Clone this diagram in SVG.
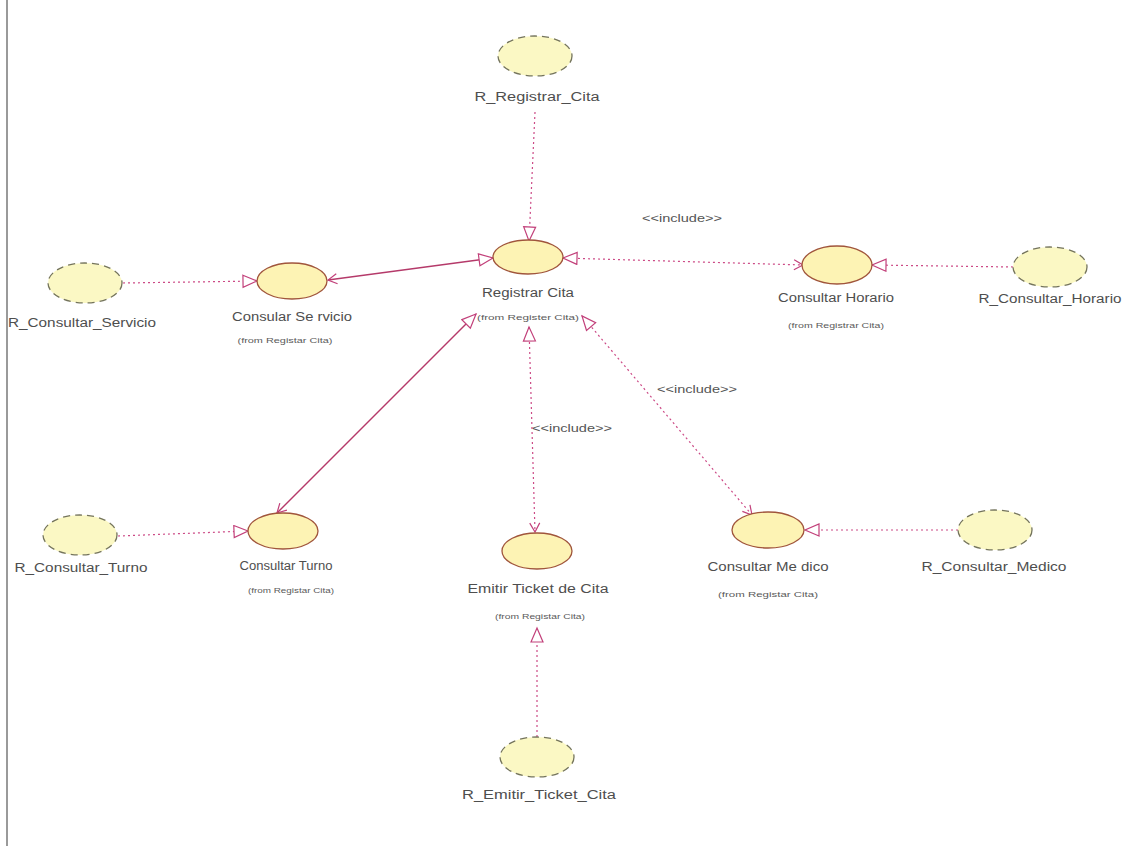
<svg xmlns="http://www.w3.org/2000/svg" width="1128" height="846" viewBox="0 0 1128 846">
  <style>
    .uc ellipse { fill: #fdf3b4; stroke: #a0553c; stroke-width: 1.3; }
    .rz ellipse { fill: #fbf8c4; stroke: #74745c; stroke-width: 1.3; stroke-dasharray: 7,5; }
    .lbl { font-family: "Liberation Sans", Arial, sans-serif; font-size: 12.5px; fill: #4e4e4e; text-anchor: middle; }
    .sub { font-family: "Liberation Sans", Arial, sans-serif; font-size: 7.5px; fill: #5a5a5a; text-anchor: middle; }
    .stereo { font-family: "Liberation Sans", Arial, sans-serif; font-size: 11px; fill: #555; text-anchor: middle; }
    .dep { fill: none; stroke: #cc4a86; stroke-width: 1.2; stroke-dasharray: 2,3; }
    .assoc { fill: none; stroke: #b53a6a; stroke-width: 1.4; }
  </style>
  <defs>
    <marker id="tri" markerUnits="userSpaceOnUse" markerWidth="18" markerHeight="16" refX="15" refY="7" orient="auto-start-reverse">
      <path d="M1,1 L15,7 L1,13 Z" fill="#ffffff" stroke="#c2407a" stroke-width="1.2"/>
    </marker>
    <marker id="open" markerUnits="userSpaceOnUse" markerWidth="14" markerHeight="14" refX="10" refY="6" orient="auto-start-reverse">
      <path d="M1,1 L10,6 L1,11" fill="none" stroke="#c2407a" stroke-width="1.2"/>
    </marker>
  </defs>

  <rect x="0" y="0" width="1128" height="846" fill="#ffffff"/>
  <line x1="7" y1="0" x2="7" y2="846" stroke="#9a9a9a" stroke-width="2"/>

  <!-- connectors -->
  <g id="connectors">
    <line class="dep" x1="535" y1="112" x2="529" y2="241" marker-end="url(#tri)"/>
    <line class="dep" x1="123" y1="283" x2="257" y2="281" marker-end="url(#tri)"/>
    <line class="assoc" x1="328" y1="280" x2="493" y2="258" marker-start="url(#open)" marker-end="url(#tri)"/>
    <line class="dep" x1="563" y1="258" x2="803" y2="265" marker-start="url(#tri)" marker-end="url(#open)"/>
    <line class="dep" x1="1013" y1="267" x2="872" y2="265" marker-end="url(#tri)"/>
    <line class="assoc" x1="277" y1="513" x2="476" y2="314" marker-start="url(#open)" marker-end="url(#tri)"/>
    <line class="dep" x1="529" y1="327" x2="535" y2="532" marker-start="url(#tri)" marker-end="url(#open)"/>
    <line class="dep" x1="582" y1="316" x2="752" y2="515" marker-start="url(#tri)" marker-end="url(#open)"/>
    <line class="dep" x1="958" y1="530" x2="805" y2="530" marker-end="url(#tri)"/>
    <line class="dep" x1="118" y1="536" x2="248" y2="531" marker-end="url(#tri)"/>
    <line class="dep" x1="537" y1="737" x2="537" y2="628" marker-end="url(#tri)"/>
    <text class="stereo" x="682" y="222" textLength="80" lengthAdjust="spacingAndGlyphs">&lt;&lt;include&gt;&gt;</text>
    <text class="stereo" x="697" y="393" textLength="80" lengthAdjust="spacingAndGlyphs">&lt;&lt;include&gt;&gt;</text>
    <text class="stereo" x="572" y="432" textLength="80" lengthAdjust="spacingAndGlyphs">&lt;&lt;include&gt;&gt;</text>
  </g>

  <!-- use cases -->
  <g id="registrar-cita" class="uc">
    <ellipse cx="528" cy="257" rx="35" ry="17"/>
    <text class="lbl" x="528" y="297" textLength="92" lengthAdjust="spacingAndGlyphs">Registrar Cita</text>
    <text class="sub" x="528" y="320" textLength="102" lengthAdjust="spacingAndGlyphs">(from Register Cita)</text>
  </g>
  <g id="consular-servicio" class="uc">
    <ellipse cx="292" cy="281" rx="35" ry="18"/>
    <text class="lbl" x="292" y="321" textLength="120" lengthAdjust="spacingAndGlyphs">Consular Se rvicio</text>
    <text class="sub" x="285" y="343" textLength="95" lengthAdjust="spacingAndGlyphs">(from Registar Cita)</text>
  </g>
  <g id="consultar-horario" class="uc">
    <ellipse cx="837" cy="265" rx="35" ry="19"/>
    <text class="lbl" x="836" y="302" textLength="116" lengthAdjust="spacingAndGlyphs">Consultar Horario</text>
    <text class="sub" x="836" y="328" textLength="96" lengthAdjust="spacingAndGlyphs">(from Registrar Cita)</text>
  </g>
  <g id="consultar-turno" class="uc">
    <ellipse cx="283" cy="531" rx="35" ry="18"/>
    <text class="lbl" x="286" y="570" textLength="93" lengthAdjust="spacingAndGlyphs">Consultar Turno</text>
    <text class="sub" x="291" y="593" textLength="86" lengthAdjust="spacingAndGlyphs">(from Registar Cita)</text>
  </g>
  <g id="emitir-ticket" class="uc">
    <ellipse cx="537" cy="551" rx="35" ry="18"/>
    <text class="lbl" x="538" y="593" textLength="141" lengthAdjust="spacingAndGlyphs">Emitir Ticket de Cita</text>
    <text class="sub" x="540" y="619" textLength="90" lengthAdjust="spacingAndGlyphs">(from Registar Cita)</text>
  </g>
  <g id="consultar-medico" class="uc">
    <ellipse cx="768" cy="530" rx="36" ry="18"/>
    <text class="lbl" x="768" y="571" textLength="121" lengthAdjust="spacingAndGlyphs">Consultar Me dico</text>
    <text class="sub" x="768" y="597" textLength="100" lengthAdjust="spacingAndGlyphs">(from Registar Cita)</text>
  </g>

  <!-- realizations -->
  <g id="r-registrar-cita" class="rz">
    <ellipse cx="535" cy="56" rx="37" ry="20"/>
    <text class="lbl" x="537" y="101" textLength="125" lengthAdjust="spacingAndGlyphs">R_Registrar_Cita</text>
  </g>
  <g id="r-consultar-servicio" class="rz">
    <ellipse cx="85" cy="283" rx="37" ry="20"/>
    <text class="lbl" x="82" y="327" textLength="148" lengthAdjust="spacingAndGlyphs">R_Consultar_Servicio</text>
  </g>
  <g id="r-consultar-horario" class="rz">
    <ellipse cx="1050" cy="267" rx="37" ry="20"/>
    <text class="lbl" x="1050" y="303" textLength="143" lengthAdjust="spacingAndGlyphs">R_Consultar_Horario</text>
  </g>
  <g id="r-consultar-turno" class="rz">
    <ellipse cx="80" cy="535" rx="37" ry="20"/>
    <text class="lbl" x="81" y="572" textLength="133" lengthAdjust="spacingAndGlyphs">R_Consultar_Turno</text>
  </g>
  <g id="r-consultar-medico" class="rz">
    <ellipse cx="995" cy="530" rx="37" ry="20"/>
    <text class="lbl" x="994" y="571" textLength="145" lengthAdjust="spacingAndGlyphs">R_Consultar_Medico</text>
  </g>
  <g id="r-emitir-ticket-cita" class="rz">
    <ellipse cx="537" cy="757" rx="37" ry="20"/>
    <text class="lbl" x="539" y="799" textLength="154" lengthAdjust="spacingAndGlyphs">R_Emitir_Ticket_Cita</text>
  </g>
</svg>
